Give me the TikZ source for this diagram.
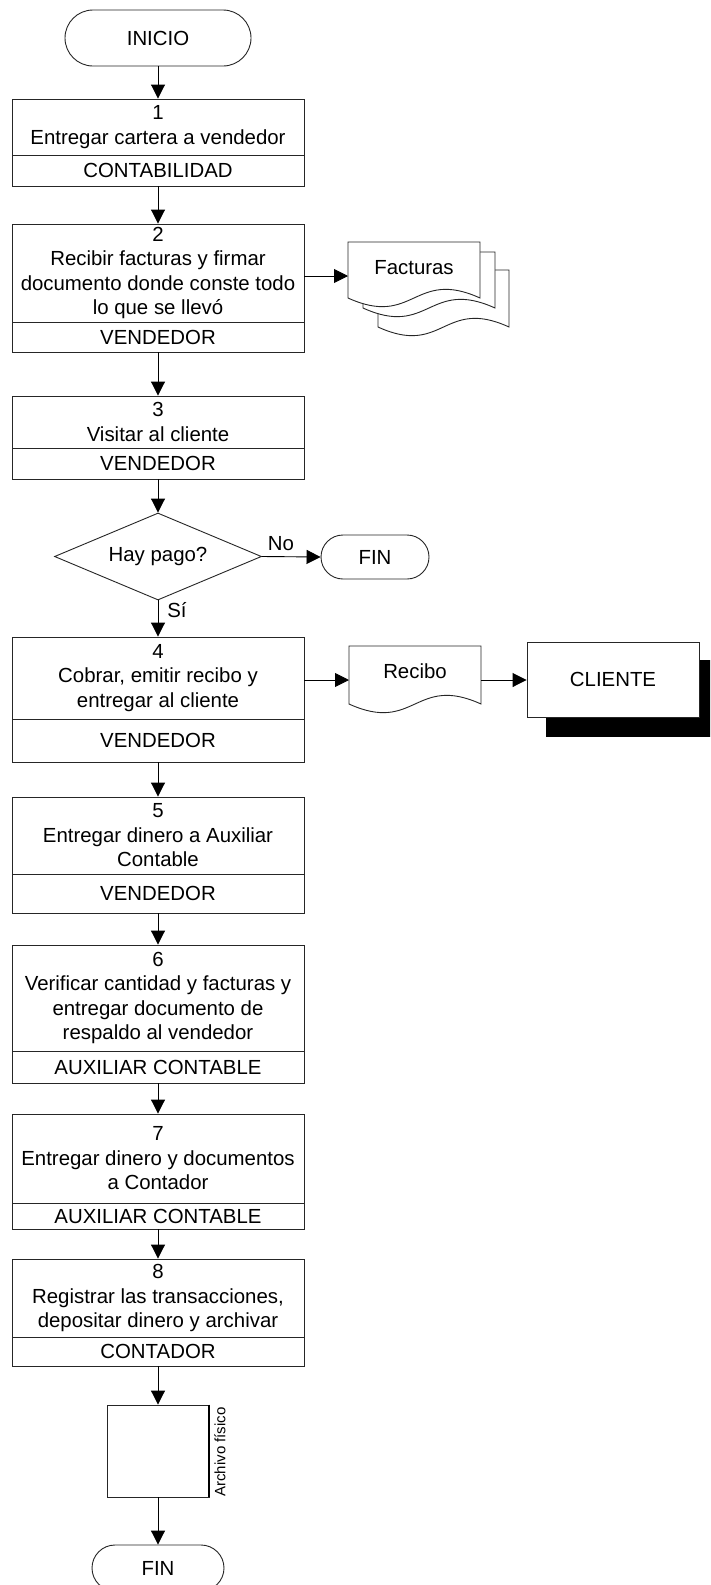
\documentclass[tikz,border=0pt]{standalone}
\usepackage{fontspec}
\setmainfont{Liberation Sans}
\usetikzlibrary{arrows.meta,shapes.geometric,shapes.misc}

\tikzset{
  frame/.style={draw=black!85, line width=0.9pt},
  lbl/.style={inner sep=0pt, font=\fontsize{20.4}{24.5}\selectfont, align=center},
  procbox/.style={frame, rectangle, minimum width=292pt, inner sep=0pt, fill=white},
  term/.style={frame, rounded rectangle, inner sep=0pt, fill=white, font=\fontsize{20.4}{24.5}\selectfont},
  arr/.style={draw=black, line width=0.9pt, -{Triangle[length=14pt,width=14pt]}},
  sheet/.style={frame, fill=white},
}

% process step: name, top, divider, bottom, text, role
\newcommand\procstep[6]{%
  \node[procbox, minimum height={(#4-#2)*1pt}] (#1) at (158,{(#2+#4)/2}) {};
  \draw[frame] (12,#3) -- (304,#3);
  \node[lbl] (#1-txt) at (158,{(#2+#3)/2}) {#5};
  \node[lbl] (#1-role) at (158,{(#3+#4)/2}) {#6};
}

% document sheet with wavy lower edge: left, right, top, base line
\newcommand\docsheet[4]{%
  \path[sheet] (#1,#4) -- (#1,#3) -- (#2,#3) -- (#2,#4)
    .. controls ({(#1+#2)/2},{#4-30}) and ({(#1+#2)/2},{#4+30}) .. (#1,#4) -- cycle;
}

\begin{document}
\begin{tikzpicture}[x=1pt,y=-1pt]
\useasboundingbox (0,0) rectangle (710,1585);
\fill[white] (0,0) rectangle (710,1585);
\clip (0,0) rectangle (710,1585);

% start
\node[term, minimum width=186pt, minimum height=56pt] (inicio) at (158,38) {INICIO};

% process steps
\procstep{b1}{99}{155}{186}{1\\Entregar cartera a vendedor}{CONTABILIDAD}
\procstep{b2}{224}{322}{352}{2\\Recibir facturas y firmar\\documento donde conste todo\\lo que se llevó}{VENDEDOR}
\procstep{b3}{396}{448}{479}{3\\Visitar al cliente}{VENDEDOR}
\procstep{b4}{637}{719}{762}{4\\Cobrar, emitir recibo y\\entregar al cliente}{VENDEDOR}
\procstep{b5}{797}{874}{913}{5\\Entregar dinero a Auxiliar\\Contable}{VENDEDOR}
\procstep{b6}{945}{1051}{1083}{6\\Verificar cantidad y facturas y\\entregar documento de\\respaldo al vendedor}{AUXILIAR CONTABLE}
\procstep{b7}{1114}{1203}{1229}{7\\Entregar dinero y documentos\\a Contador}{AUXILIAR CONTABLE}
\procstep{b8}{1259}{1337}{1366}{8\\Registrar las transacciones,\\depositar dinero y archivar}{CONTADOR}

% decision
\node[frame, diamond, shape aspect=2.4, minimum width=207pt, minimum height=87pt,
      inner sep=0pt, fill=white, font=\fontsize{20.4}{24.5}\selectfont] (dec) at (158,556.5) {Hay pago?};
\node[term, minimum width=108pt, minimum height=44pt] (fin1) at (375,557) {FIN};
\node[lbl] (nolbl) at (281,544) {No};
\node[lbl] (silbl) at (177,610) {Sí};

% stacked invoices
\docsheet{378}{509}{270}{327}
\docsheet{363}{495}{252}{308}
\docsheet{348}{480}{242}{298}
\node[lbl] (fact) at (414,268) {Facturas};
\coordinate (fact-in) at (348,276);

% receipt and client
\docsheet{349}{481}{646}{704}
\node[lbl] (rec) at (415,671) {Recibo};
\coordinate (rec-in) at (349,680);
\coordinate (rec-out) at (481,680);
\fill[black] (546,660) rectangle (720,737);
\node[frame, lbl, fill=white, minimum width=172pt, minimum height=75pt] (cliente) at (613,679.5) {CLIENTE};

% physical archive
\node[frame, fill=white, minimum width=102pt, minimum height=92pt, inner sep=0pt] (arch) at (158,1451) {};
\draw[line width=2pt] (arch.north east) -- (arch.south east);
\node[inner sep=0pt, rotate=90, font=\fontsize{15}{18}\selectfont] (archlbl) at (220,1452) {Archivo físico};

% end
\node[term, minimum width=132pt, minimum height=46pt] (fin2) at (158,1568) {FIN};

% connectors
\draw[arr] (inicio.south) -- (b1.north);
\draw[arr] (b1.south) -- (b2.north);
\draw[arr] (fact-in -| b2.east) -- (fact-in);
\draw[arr] (b2.south) -- (b3.north);
\draw[arr] (b3.south) -- (dec.north);
\draw[arr] (dec.east) -- (fin1.west);
\draw[arr] (dec.south) -- (b4.north);
\draw[arr] (rec-in -| b4.east) -- (rec-in);
\draw[arr] (rec-out) -- (cliente.west |- rec-out);
\draw[arr] (b4.south) -- (b5.north);
\draw[arr] (b5.south) -- (b6.north);
\draw[arr] (b6.south) -- (b7.north);
\draw[arr] (b7.south) -- (b8.north);
\draw[arr] (b8.south) -- (arch.north);
\draw[arr] (arch.south) -- (fin2.north);
\end{tikzpicture}
\end{document}
